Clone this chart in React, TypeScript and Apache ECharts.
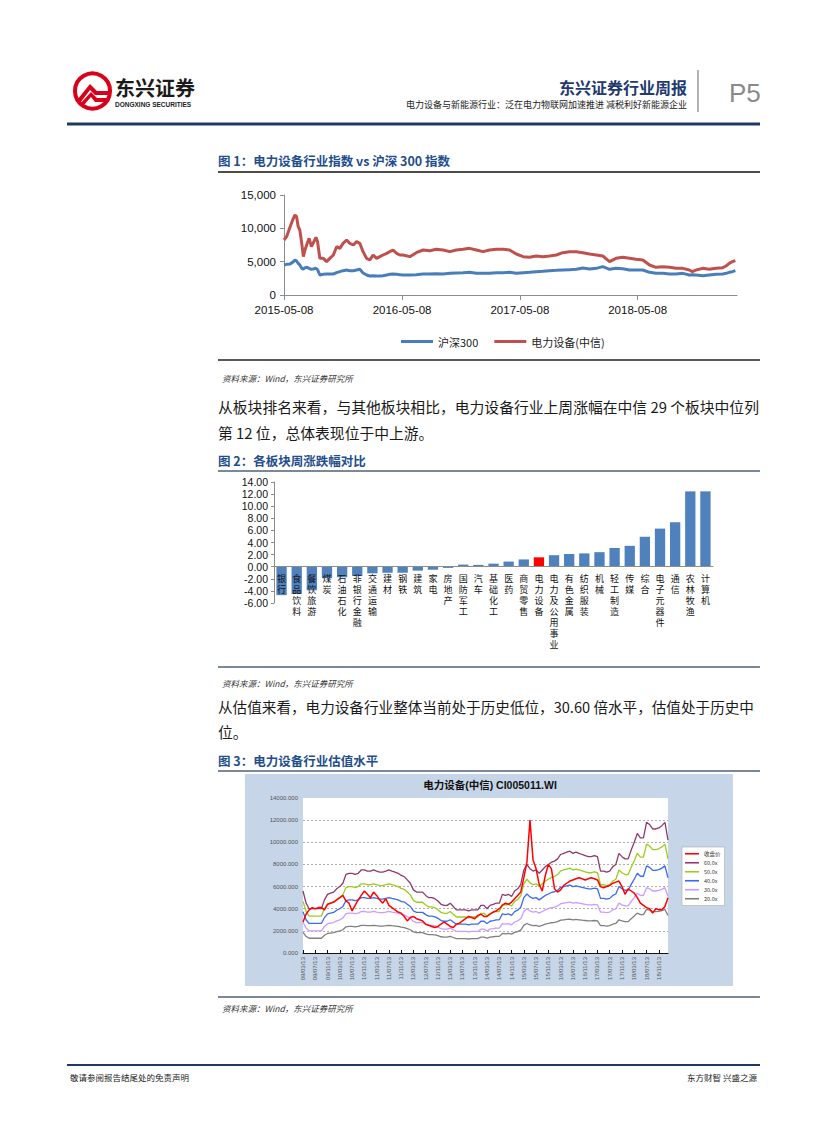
import React, { useEffect, useRef } from "react";
import * as echarts from "echarts";

// ---------- Figure 1 data: 电力设备行业指数 vs 沪深300 ----------
const idxDates = ["2015-05-08","2015-05-16","2015-05-27","2015-06-06","2015-06-11","2015-06-16","2015-06-21","2015-06-26","2015-07-02","2015-07-07","2015-07-12","2015-07-19","2015-07-25","2015-08-01","2015-08-06","2015-08-15","2015-08-20","2015-08-27","2015-09-07","2015-09-17","2015-09-27","2015-10-08","2015-10-18","2015-10-28","2015-11-07","2015-11-18","2015-11-28","2015-12-09","2015-12-19","2015-12-29","2016-01-08","2016-01-19","2016-01-29","2016-02-08","2016-02-19","2016-02-29","2016-03-10","2016-03-21","2016-03-31","2016-04-10","2016-04-21","2016-05-01","2016-05-11","2016-06-01","2016-06-21","2016-07-12","2016-08-02","2016-08-22","2016-09-12","2016-10-03","2016-10-23","2016-11-13","2016-12-03","2016-12-24","2017-01-14","2017-02-03","2017-02-24","2017-03-17","2017-04-06","2017-04-27","2017-05-18","2017-06-07","2017-06-28","2017-07-18","2017-08-08","2017-08-29","2017-09-18","2017-10-09","2017-10-30","2017-11-19","2017-12-10","2017-12-31","2018-01-20","2018-02-10","2018-03-02","2018-03-23","2018-04-13","2018-05-03","2018-05-24","2018-06-14","2018-07-04","2018-07-25","2018-08-15","2018-09-04","2018-09-25","2018-10-15","2018-10-25","2018-11-05","2018-11-26","2018-12-16","2019-01-06","2019-01-27","2019-02-06","2019-02-16","2019-02-26","2019-03-07"];
const hs300 = [4500,4600,4650,5000,5250,5100,4750,4500,4000,3900,4100,4150,4000,3850,3900,4000,3800,3000,3100,3150,3150,3150,3350,3500,3650,3750,3650,3650,3750,3850,3300,3000,2850,2900,2850,2850,2900,3000,3100,3150,3100,3050,3000,3000,3050,3150,3150,3200,3150,3250,3300,3350,3400,3250,3250,3250,3350,3350,3400,3250,3350,3400,3500,3550,3650,3700,3750,3800,3850,4050,3900,4000,4250,3850,4000,3950,3750,3750,3750,3400,3250,3250,3150,3150,3250,3000,3050,3000,2900,3000,3100,3150,3250,3400,3500,3650];
const powerEquip = [8250,8750,10250,11500,12000,11750,10250,9750,7750,5750,6750,7750,8500,7250,7750,8650,8000,5500,5500,5000,5500,6000,7250,7000,7750,8250,7750,7500,8000,7750,6500,5500,5250,6000,5500,5750,6000,6250,6500,6750,6250,6000,6000,5750,6350,6750,6650,6850,6750,6500,6750,6850,7000,6750,6500,6750,6850,6850,6750,6150,5750,5650,5850,5750,5850,6000,6350,6500,6500,6350,6150,6000,5850,5000,5500,5650,5500,5350,5250,4500,4150,4250,4150,4000,4000,3750,3500,3750,4000,3850,4000,4100,4350,4750,5000,5150];
const idxTickDates = ["2015-05-08", "2016-05-08", "2017-05-08", "2018-05-08"];
const idxRange = ["2015-05-08", "2019-03-12"];
const idxSeriesNames = ["沪深300", "电力设备(中信)"];

// ---------- Figure 2 data: 各板块周涨跌幅 ----------
const sectors = ["银行","食品饮料","餐饮旅游","煤炭","石油石化","非银行金融","交通运输","建材","钢铁","建筑","家电","房地产","国防军工","汽车","基础化工","医药","商贸零售","电力设备","电力及公用事业","有色金属","纺织服装","机械","轻工制造","传媒","综合","电子元器件","通信","农林牧渔","计算机"];
const sectorChange = [-4.7,-4.5,-3.9,-1.9,-1.75,-1.55,-1.1,-1.0,-1.0,-0.65,-0.5,-0.2,0.35,0.3,0.5,0.85,1.2,1.55,1.9,2.1,2.2,2.4,3.1,3.45,4.95,6.3,7.35,12.45,12.45];
const highlightSector = "电力设备";

// ---------- Figure 3 data: PE band, 电力设备(中信) CI005011.WI (monthly 2009-03 .. 2019-02) ----------
const closePrice = [2800,3500,3900,4100,4000,4100,4100,3900,4400,4500,4600,4800,5000,5200,4700,4500,3800,4300,4800,5200,5600,5300,5000,5500,5200,4800,4500,4900,4300,4100,3900,3700,3600,3300,2900,3200,3300,3100,3000,2900,2600,2500,2400,2300,2400,2600,2800,2600,2400,2300,2600,2700,2900,3100,3300,3200,3100,3400,3500,3300,3300,3500,3700,3800,4000,4300,4500,4400,4600,4900,5200,5500,6800,8200,12000,8400,7600,6200,5600,7000,8000,7600,5800,5500,5700,6100,6300,6500,6600,6700,6800,6700,6600,6700,6800,6700,6600,6000,5900,6000,6100,6300,6400,6500,6000,5300,5800,5600,5400,5000,4500,4300,4100,4000,3600,4000,3900,3900,4200,5000];
const epsTTM = [93.3,75,66.7,66.7,66.7,66.7,66.7,80,88.3,90,91.7,96.7,100,105,118.3,120,120,118.3,120,125,125,123.3,123.3,125,123.3,121.7,121.7,123.3,125,123.3,121.7,120,116.7,115,110,105,95,91.7,91.7,91.7,86.7,83.3,83.3,81.7,78.3,73.3,71.7,71.7,75,70,65,65,65,65,63.3,65,65,65,71.7,71.7,66.7,71.7,73.3,75,75,88.3,86.7,88.3,85,93.3,96.7,103.3,125,133.3,126.7,123.3,125,120,125,130,133.3,136.7,138.3,141.7,148.3,150,151.7,153.3,150,151.7,150,148.3,146.7,145,145,146.7,145,123.3,123.3,121.7,123.3,130,133.3,150,145,141.7,141.7,155,166.7,180,173.3,173.3,196.7,193.3,186.7,186.7,188.3,191.7,196.7,170];
const peMultiples = [60, 50, 40, 30, 20];
const peLabels = ["60.0x", "50.0x", "40.0x", "30.0x", "20.0x"];
const priceLabel = "收盘价";
const peStart = { year: 2009, month: 3 };

const CJK = "'Noto Sans CJK SC', sans-serif";
const SANS = "'Liberation Sans', 'Noto Sans CJK SC', sans-serif";

const DAY = 86400000;
const day0 = Date.parse(idxRange[0]);
const dayOf = (s: string) => Math.round((Date.parse(s) - day0) / DAY);
const dayLabel = (v: number) => new Date(day0 + Math.round(v) * DAY).toISOString().slice(0, 10);
const pad = (n: number) => (n < 10 ? "0" + n : "" + n);

const peMonths: string[] = closePrice.map((_, i) => {
  const t = peStart.month - 1 + i;
  const y = peStart.year + Math.floor(t / 12);
  const m = (t % 12) + 1;
  return `${pad(y % 100)}/${pad(m)}/13`;
});

function txt(x: number, y: number, text: string, o: any = {}) {
  const align = o.align || "left";
  return {
    type: "text",
    x,
    y,
    z: 20,
    style: {
      text,
      fill: o.fill || "#000",
      fontSize: o.size || 12,
      fontWeight: o.weight || "normal",
      fontStyle: o.italic ? "italic" : "normal",
      fontFamily: o.family || CJK,
      textAlign: align,
      align,
      textVerticalAlign: "middle",
      verticalAlign: "middle",
    },
  };
}
function hline(x1: number, x2: number, y: number, color: string, w: number) {
  return { type: "line", z: 20, shape: { x1, y1: y, x2, y2: y }, style: { stroke: color, lineWidth: w } };
}

export default function App() {
  const ref = useRef<HTMLDivElement>(null);
  useEffect(() => {
    const chart = echarts.init(ref.current!, undefined, { renderer: "svg", width: 827, height: 1122 });
    const tickDays = idxTickDates.map(dayOf);
    const bandColors = ["#8e3a6e", "#9ccc1c", "#3a6cf0", "#cc9cff", "#808080"];
    const g2Top = 482;
    const g2Height = 121;
    const g2Min = -6;
    const g2Max = 14;
    const zeroOffset = -(g2Height * (0 - g2Min)) / (g2Max - g2Min);

    const logoRed = "#d9001b";
    const graphics: any[] = [
      // header logo
      { type: "circle", z: 20, shape: { cx: 92.5, cy: 91, r: 17.5 }, style: { fill: "#fff", stroke: logoRed, lineWidth: 4 } },
      { type: "polygon", z: 21, shape: { points: [[77, 100], [90, 84], [97, 91], [108, 91], [108, 95], [95, 95], [90, 90], [80, 103]] }, style: { fill: logoRed } },
      { type: "polygon", z: 21, shape: { points: [[80, 104], [91, 92], [97, 98], [108, 98], [108, 102], [95, 102], [91, 97], [83, 106]] }, style: { fill: logoRed } },
      txt(115, 87, "东兴证券", { size: 20, weight: "bold", fill: "#1a1a1a" }),
      txt(115, 104, "DONGXING SECURITIES", { size: 6.5, weight: "bold", fill: "#222", family: SANS }),
      txt(687, 86.5, "东兴证券行业周报", { size: 16, weight: "bold", fill: "#1f3a6e", align: "right" }),
      txt(687, 104, "电力设备与新能源行业：泛在电力物联网加速推进 减税利好新能源企业", { size: 9, fill: "#222", align: "right" }),
      { type: "line", z: 20, shape: { x1: 698, y1: 70, x2: 698, y2: 112 }, style: { stroke: "#9a9a9a", lineWidth: 1.5 } },
      txt(729, 93, "P5", { size: 26, fill: "#8a8a8a", family: SANS }),
      hline(67, 760, 124, "#1f3864", 3),

      // figure 1
      txt(218, 160, "图 1：电力设备行业指数 vs 沪深 300 指数", { size: 12.5, weight: "bold", fill: "#1f4e8c" }),
      hline(218, 760, 172, "#111", 1.3),
      hline(218, 760, 360, "#222", 1.3),
      txt(222, 378, "资料来源：Wind，东兴证券研究所", { size: 8.5, italic: true, fill: "#333" }),
      txt(218, 406, "从板块排名来看，与其他板块相比，电力设备行业上周涨幅在中信 29 个板块中位列", { size: 14.8, fill: "#1a1a1a" }),
      txt(218, 432, "第 12 位，总体表现位于中上游。", { size: 14.8, fill: "#1a1a1a" }),

      // figure 2
      txt(218, 460, "图 2：各板块周涨跌幅对比", { size: 12.5, weight: "bold", fill: "#1f4e8c" }),
      hline(218, 760, 471, "#4f6079", 1.3),
      hline(218, 760, 667, "#4f6079", 1.3),
      txt(222, 683, "资料来源：Wind，东兴证券研究所", { size: 8.5, italic: true, fill: "#333" }),
      txt(218, 706, "从估值来看，电力设备行业整体当前处于历史低位，30.60 倍水平，估值处于历史中", { size: 14.6, fill: "#1a1a1a" }),
      txt(218, 731, "位。", { size: 14.8, fill: "#1a1a1a" }),

      // figure 3
      txt(218, 760, "图 3：电力设备行业估值水平", { size: 12.5, weight: "bold", fill: "#1f4e8c" }),
      hline(218, 760, 771, "#4f6079", 1.3),
      { type: "rect", z: -10, shape: { x: 245, y: 774, width: 488, height: 212 }, style: { fill: "#c6d5e8" } },
      { type: "rect", z: -9, shape: { x: 303, y: 798, width: 365, height: 155 }, style: { fill: "#ffffff" } },
      txt(490, 785, "电力设备(中信) CI005011.WI", { size: 10.5, weight: "bold", fill: "#111", align: "center", family: SANS }),
      hline(218, 760, 997, "#4f6079", 1.3),
      txt(222, 1008, "资料来源：Wind，东兴证券研究所", { size: 8.5, italic: true, fill: "#333" }),

      // footer
      hline(67, 760, 1065, "#1f3864", 2),
      txt(70, 1077, "敬请参阅报告结尾处的免责声明", { size: 8.5, fill: "#222" }),
      txt(757, 1077, "东方财智 兴盛之源", { size: 8.5, fill: "#222", align: "right" }),
    ];

    const option: any = {
      animation: false,
      textStyle: { fontFamily: SANS },
      graphic: { elements: graphics },
      grid: [
        { left: 284, top: 195, width: 453, height: 100 },
        { left: 274, top: g2Top, width: 439, height: g2Height },
        { left: 303, top: 798, width: 365, height: 155 },
      ],
      legend: [
        {
          data: idxSeriesNames,
          left: 396,
          top: 331,
          icon: "rect",
          itemWidth: 32,
          itemHeight: 3,
          itemGap: 16,
          textStyle: { fontSize: 11, fontFamily: CJK, color: "#222" },
        },
        {
          data: [priceLabel, ...peLabels],
          orient: "vertical",
          left: 682,
          top: 847,
          icon: "rect",
          itemWidth: 14,
          itemHeight: 1.6,
          itemGap: 3.5,
          padding: [4, 4, 4, 3],
          backgroundColor: "#ffffff",
          borderColor: "#aaaaaa",
          borderWidth: 0.6,
          textStyle: { fontSize: 5.5, color: "#333", fontFamily: CJK },
        },
      ],
      xAxis: [
        {
          gridIndex: 0,
          type: "value",
          min: 0,
          max: dayOf(idxRange[1]),
          axisLine: { lineStyle: { color: "#8c8c8c" } },
          axisTick: { show: true, customValues: tickDays, length: 5, lineStyle: { color: "#8c8c8c" } },
          axisLabel: {
            customValues: tickDays,
            color: "#111",
            fontSize: 11.5,
            margin: 9,
            formatter: (v: number) => dayLabel(v),
          },
          splitLine: { show: false },
        },
        {
          gridIndex: 1,
          type: "category",
          data: sectors,
          z: 5,
          offset: zeroOffset,
          axisLine: { onZero: false, lineStyle: { color: "#8c8c8c" } },
          axisTick: { length: 3, lineStyle: { color: "#8c8c8c" } },
          axisLabel: {
            interval: 0,
            color: "#111",
            fontSize: 9,
            lineHeight: 11,
            margin: 6,
            fontFamily: CJK,
            formatter: (s: string) => s.split("").join("\n"),
          },
        },
        {
          gridIndex: 2,
          type: "category",
          data: peMonths,
          boundaryGap: false,
          axisLine: { lineStyle: { color: "#111", width: 1.2 } },
          axisTick: { inside: true, interval: 3, length: 3, lineStyle: { color: "#111" } },
          axisLabel: { interval: 3, rotate: 90, fontSize: 6, color: "#555", margin: 4 },
        },
      ],
      yAxis: [
        {
          gridIndex: 0,
          type: "value",
          min: 0,
          max: 15000,
          interval: 5000,
          axisLine: { show: true, lineStyle: { color: "#8c8c8c" } },
          axisTick: { show: true, length: 4, lineStyle: { color: "#8c8c8c" } },
          axisLabel: { color: "#111", fontSize: 11.5, margin: 8, formatter: (v: number) => v.toLocaleString("en-US") },
          splitLine: { show: false },
        },
        {
          gridIndex: 1,
          type: "value",
          min: g2Min,
          max: g2Max,
          interval: 2,
          axisLine: { show: true, lineStyle: { color: "#8c8c8c" } },
          axisTick: { show: true, length: 3, lineStyle: { color: "#8c8c8c" } },
          axisLabel: { color: "#111", fontSize: 10.5, margin: 6, formatter: (v: number) => v.toFixed(2) },
          splitLine: { show: false },
        },
        {
          gridIndex: 2,
          type: "value",
          min: 0,
          max: 14000,
          interval: 2000,
          axisLine: { show: false },
          axisTick: { show: false },
          axisLabel: { color: "#555", fontSize: 6, margin: 5, formatter: (v: number) => v.toFixed(3) },
          splitLine: { show: true, showMinLine: false, showMaxLine: false, lineStyle: { color: "#9a9a9a", type: [2, 2], width: 0.8 } },
        },
      ],
      series: [
        {
          name: idxSeriesNames[0],
          type: "line",
          xAxisIndex: 0,
          yAxisIndex: 0,
          showSymbol: false,
          data: idxDates.map((d, i) => [dayOf(d), hs300[i]]),
          lineStyle: { color: "#4a7ebb", width: 3 },
          itemStyle: { color: "#4a7ebb" },
        },
        {
          name: idxSeriesNames[1],
          type: "line",
          xAxisIndex: 0,
          yAxisIndex: 0,
          showSymbol: false,
          data: idxDates.map((d, i) => [dayOf(d), powerEquip[i]]),
          lineStyle: { color: "#c0504d", width: 3 },
          itemStyle: { color: "#c0504d" },
        },
        {
          type: "bar",
          xAxisIndex: 1,
          yAxisIndex: 1,
          barWidth: "68%",
          data: sectorChange.map((v, i) => ({
            value: v,
            itemStyle: { color: sectors[i] === highlightSector ? "#ff0000" : "#4f81bd" },
          })),
        },
        ...peMultiples.map((m, k) => ({
          name: peLabels[k],
          type: "line",
          xAxisIndex: 2,
          yAxisIndex: 2,
          showSymbol: false,
          data: epsTTM.map((e) => Math.round(e * m)),
          lineStyle: { color: bandColors[k], width: 1.3 },
          itemStyle: { color: bandColors[k] },
        })),
        {
          name: priceLabel,
          type: "line",
          xAxisIndex: 2,
          yAxisIndex: 2,
          showSymbol: false,
          data: closePrice,
          lineStyle: { color: "#ff0000", width: 1.5 },
          itemStyle: { color: "#ff0000" },
        },
      ],
    };
    chart.setOption(option);
    return () => chart.dispose();
  }, []);
  return (
    <div
      ref={ref}
      style={{ position: "absolute", left: 0, top: 0, width: 827, height: 1122, background: "#fff" }}
    />
  );
}
